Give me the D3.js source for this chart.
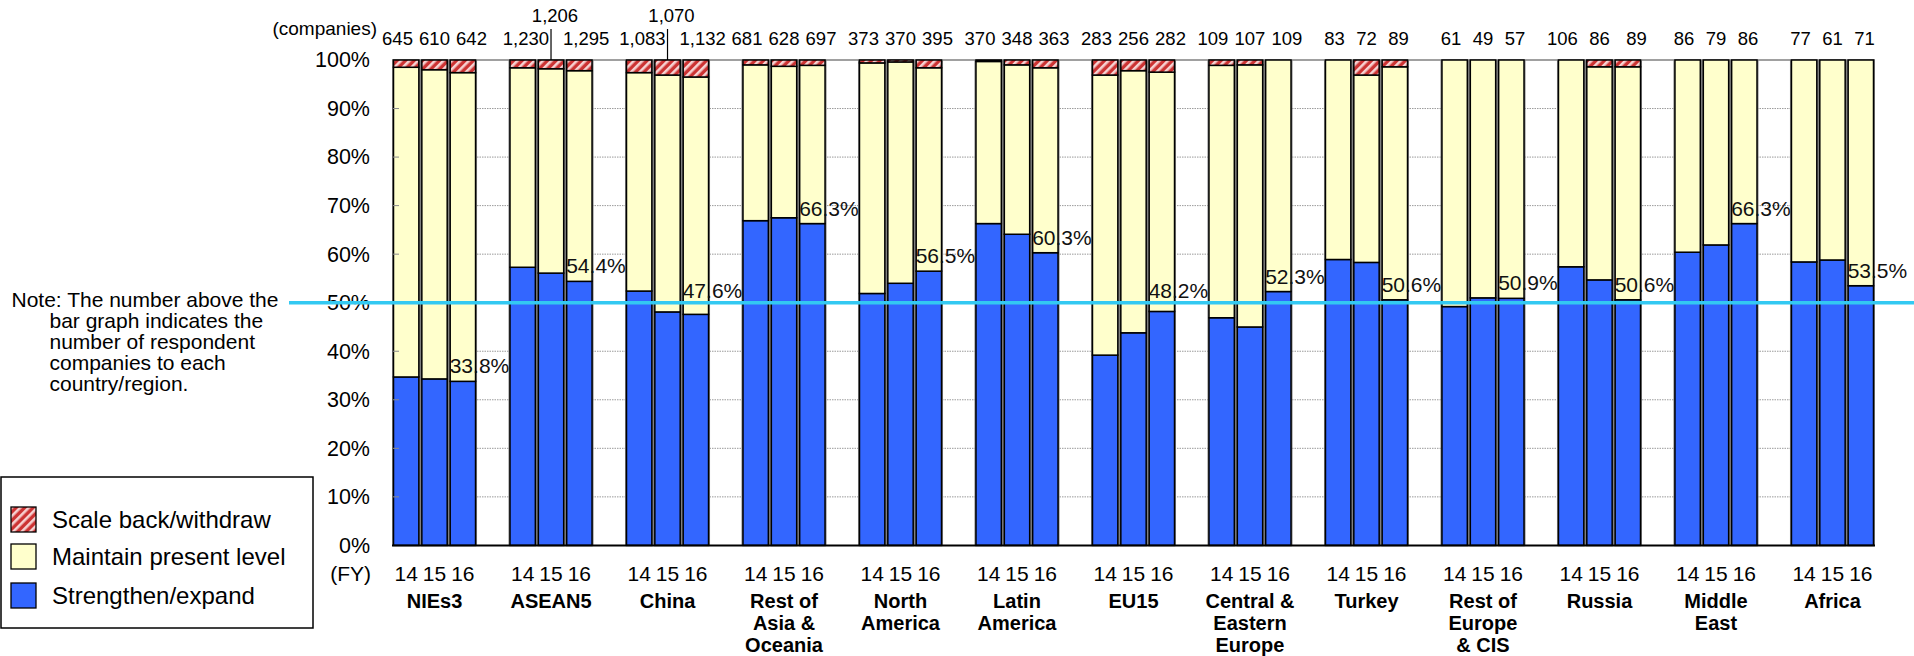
<!DOCTYPE html>
<html>
<head>
<meta charset="utf-8">
<script src="https://cdn.jsdelivr.net/npm/d3@7"></script>
<style>
  html, body { margin: 0; padding: 0; background: #fff; }
  svg { display: block; font-family: Arial, "Liberation Sans", Helvetica, sans-serif; }
</style>
</head>
<body>
<svg id="chart" width="1914" height="656"></svg>
<script>
// ---- data -------------------------------------------------------------
const regions = ["NIEs3", "ASEAN5", "China", "Rest of Asia & Oceania", "North America",
  "Latin America", "EU15", "Central & Eastern Europe", "Turkey", "Rest of Europe & CIS",
  "Russia", "Middle East", "Africa"];
const regionLines = [["NIEs3"], ["ASEAN5"], ["China"], ["Rest of", "Asia &", "Oceania"],
  ["North", "America"], ["Latin", "America"], ["EU15"], ["Central &", "Eastern", "Europe"],
  ["Turkey"], ["Rest of", "Europe", "& CIS"], ["Russia"], ["Middle", "East"], ["Africa"]];
const fiscalYears = ["14", "15", "16"];

// respondent companies per region, FY14 / FY15 / FY16
const respondents = [[645, 610, 642], [1230, 1206, 1295], [1083, 1070, 1132], [681, 628, 697],
  [373, 370, 395], [370, 348, 363], [283, 256, 282], [109, 107, 109], [83, 72, 89],
  [61, 49, 57], [106, 86, 89], [86, 79, 86], [77, 61, 71]];

// shares in %, FY14 / FY15 / FY16
const strengthen = [[34.7, 34.3, 33.8], [57.3, 56.1, 54.4], [52.4, 48.1, 47.6], [66.9, 67.5, 66.3],
  [51.9, 54.0, 56.5], [66.3, 64.1, 60.3], [39.2, 43.8, 48.2], [46.9, 45.0, 52.3],
  [58.9, 58.3, 50.6], [49.2, 51.0, 50.9], [57.4, 54.7, 50.6], [60.4, 61.9, 66.3],
  [58.4, 58.8, 53.5]];
const maintain = [[63.8, 63.7, 63.6], [41.1, 42.1, 43.4], [45.0, 48.8, 48.9], [32.1, 31.2, 32.6],
  [47.5, 45.6, 41.9], [33.4, 34.9, 38.1], [57.7, 54.0, 49.3], [52.0, 54.0, 47.7],
  [41.1, 38.6, 48.0], [50.8, 49.0, 49.1], [42.6, 43.9, 48.0], [39.6, 38.1, 33.7],
  [41.6, 41.2, 46.5]];
const scaleBack = [[1.5, 2.0, 2.6], [1.6, 1.8, 2.2], [2.6, 3.1, 3.5], [1.0, 1.3, 1.1],
  [0.6, 0.4, 1.6], [0.3, 1.0, 1.6], [3.1, 2.2, 2.5], [1.1, 1.0, 0.0],
  [0.0, 3.1, 1.4], [0.0, 0.0, 0.0], [0.0, 1.4, 1.4], [0.0, 0.0, 0.0], [0.0, 0.0, 0.0]];

const yTicks = [0, 10, 20, 30, 40, 50, 60, 70, 80, 90, 100];
const referenceShare = 50;
const legendItems = ["Scale back/withdraw", "Maintain present level", "Strengthen/expand"];
const noteLines = ["Note: The number above the", "bar graph indicates the",
  "number of respondent", "companies to each", "country/region."];

// ---- setup ------------------------------------------------------------
const svg = d3.select("#chart");
const BLUE = "#3366ff", YELLOW = "#ffffcc", CYAN = "#33c9f2";

const defs = svg.append("defs");
const hatch = defs.append("pattern").attr("id", "hatch")
  .attr("patternUnits", "userSpaceOnUse").attr("width", 6).attr("height", 6)
  .attr("patternTransform", "rotate(45)");
hatch.append("rect").attr("width", 6).attr("height", 6).attr("fill", "#cc3333");
hatch.append("rect").attr("width", 2.6).attr("height", 6).attr("fill", "#f6d2d2");

const x = d3.scaleBand().domain(d3.range(regions.length)).range([392, 1875])
  .paddingInner(0.27).paddingOuter(0);
const xs = d3.scaleBand().domain(d3.range(fiscalYears.length)).range([0, x.bandwidth()]);
const y = d3.scaleLinear().domain([0, 100]).range([545.4, 60]);
const [plotL, plotR] = x.range();

// ---- gridlines --------------------------------------------------------
svg.append("g").selectAll("line").data(yTicks.filter(t => t > 0 && t < 100)).join("line")
  .attr("x1", plotL).attr("x2", plotR).attr("y1", d => y(d)).attr("y2", d => y(d))
  .attr("stroke", "#9a9a9a").attr("stroke-width", 1).attr("stroke-dasharray", "1.5,1");
svg.append("line").attr("x1", plotL).attr("x2", plotR).attr("y1", y(100)).attr("y2", y(100))
  .attr("stroke", "#808080").attr("stroke-width", 1.5);

// ---- bars -------------------------------------------------------------
const groups = svg.append("g").selectAll("g").data(regions).join("g")
  .attr("transform", (d, g) => `translate(${x(g)},0)`);
groups.append("rect")
  .attr("x", 0).attr("width", x.bandwidth())
  .attr("y", y(100)).attr("height", y(0) - y(100))
  .attr("fill", "#808080");

groups.each(function (d, g) {
  const grp = d3.select(this);
  fiscalYears.forEach((fy, i) => {
    const segs = [
      { v: strengthen[g][i], fill: BLUE },
      { v: maintain[g][i], fill: YELLOW },
      { v: scaleBack[g][i], fill: "url(#hatch)" }
    ];
    let base = 0;
    segs.forEach(s => {
      const top = base + s.v;
      if (s.v > 0) {
        grp.append("rect")
          .attr("x", xs(i) + 1.5).attr("width", xs.bandwidth() - 3)
          .attr("y", y(top)).attr("height", y(base) - y(top))
          .attr("fill", s.fill).attr("stroke", "#000").attr("stroke-width", 1.5);
      }
      base = top;
    });
  });
});

// baseline
svg.append("line").attr("x1", plotL).attr("x2", plotR).attr("y1", y(0)).attr("y2", y(0))
  .attr("stroke", "#000").attr("stroke-width", 2);

// inner tick marks
svg.append("g").selectAll("line").data(yTicks.filter(t => t > 0 && t < 100)).join("line")
  .attr("x1", plotL + 1).attr("x2", plotL + 7).attr("y1", d => y(d)).attr("y2", d => y(d))
  .attr("stroke", "#8a8a8a").attr("stroke-width", 1);

// ---- y axis labels ----------------------------------------------------
const yAxis = d3.axisLeft(y).tickValues(yTicks).tickFormat(d => d + "%")
  .tickSize(0).tickPadding(22);
const yAxisG = svg.append("g").attr("transform", `translate(${plotL},0)`).call(yAxis);
yAxisG.select(".domain").remove();
yAxisG.selectAll("text").attr("font-size", 21.5).attr("fill", "#000")
  .attr("font-family", 'Arial, "Liberation Sans", sans-serif');

// ---- 50% reference line ------------------------------------------------
svg.append("line").attr("x1", 289).attr("x2", 1914)
  .attr("y1", y(referenceShare)).attr("y2", y(referenceShare))
  .attr("stroke", CYAN).attr("stroke-width", 3.5);

// ---- FY16 value labels --------------------------------------------------
const y50 = y(referenceShare);
svg.append("g").selectAll("text").data(regions).join("text")
  .attr("x", (d, g) => x(g) + xs(2) + 1)
  .attr("y", (d, g) => {
    let b = y(strengthen[g][2]) - 8;
    if (b > y50 - 4 && b - 15 < y50 + 2) b = y50 - 5;
    return b;
  })
  .attr("font-size", 21).attr("fill", "#111")
  .text((d, g) => strengthen[g][2].toFixed(1) + "%");

// ---- respondent counts ----------------------------------------------------
const fmt = d3.format(",");
const countG = svg.append("g").attr("font-size", 18.5).attr("fill", "#000");
countG.append("text").attr("x", 377).attr("y", 35).attr("text-anchor", "end")
  .attr("font-size", 19).text("(companies)");
regions.forEach((r, g) => {
  const c = x(g) + x.bandwidth() / 2;
  const vals = respondents[g];
  if (d3.max(vals) >= 1000) {
    countG.append("text").attr("x", c - 2).attr("y", 45).attr("text-anchor", "end").text(fmt(vals[0]));
    countG.append("text").attr("x", c + 4).attr("y", 22).attr("text-anchor", "middle").text(fmt(vals[1]));
    countG.append("text").attr("x", c + 12).attr("y", 45).attr("text-anchor", "start").text(fmt(vals[2]));
    countG.append("line").attr("x1", c).attr("x2", c).attr("y1", 29).attr("y2", y(100))
      .attr("stroke", "#000").attr("stroke-width", 1.2);
  } else {
    const sp = d3.max(vals, v => String(v).length) >= 3 ? 37 : 32;
    vals.forEach((v, i) => {
      countG.append("text").attr("x", c + (i - 1) * sp).attr("y", 45)
        .attr("text-anchor", "middle").text(fmt(v));
    });
  }
});

// ---- x labels --------------------------------------------------------------
const xl = svg.append("g");
xl.append("text").attr("x", 371).attr("y", 581).attr("text-anchor", "end")
  .attr("font-size", 21).text("(FY)");
regions.forEach((r, g) => {
  fiscalYears.forEach((fy, i) => {
    xl.append("text").attr("x", x(g) + xs(i) + xs.bandwidth() / 2).attr("y", 581)
      .attr("text-anchor", "middle").attr("font-size", 21).text(fy);
  });
  regionLines[g].forEach((line, k) => {
    xl.append("text").attr("x", x(g) + x.bandwidth() / 2).attr("y", 608 + k * 22)
      .attr("text-anchor", "middle").attr("font-size", 20).attr("font-weight", "bold")
      .text(line);
  });
});

// ---- note -------------------------------------------------------------------
svg.append("g").selectAll("text").data(noteLines).join("text")
  .attr("x", (d, i) => i === 0 ? 11.5 : 49.5)
  .attr("y", (d, i) => 306.5 + i * 21)
  .attr("font-size", 21).attr("fill", "#000")
  .text(d => d);

// ---- legend -----------------------------------------------------------------
const lg = svg.append("g");
lg.append("rect").attr("x", 1).attr("y", 477).attr("width", 312).attr("height", 151)
  .attr("fill", "#fff").attr("stroke", "#000").attr("stroke-width", 1.5);
const swatchFill = ["url(#hatch)", YELLOW, BLUE];
const swatchY = [507, 544, 583];
legendItems.forEach((t, i) => {
  lg.append("rect").attr("x", 11).attr("y", swatchY[i]).attr("width", 25).attr("height", 25)
    .attr("fill", swatchFill[i]).attr("stroke", "#000").attr("stroke-width", 1.3);
  lg.append("text").attr("x", 52).attr("y", swatchY[i] + 21).attr("font-size", 24)
    .attr("fill", "#000").text(t);
});
</script>
</body>
</html>
